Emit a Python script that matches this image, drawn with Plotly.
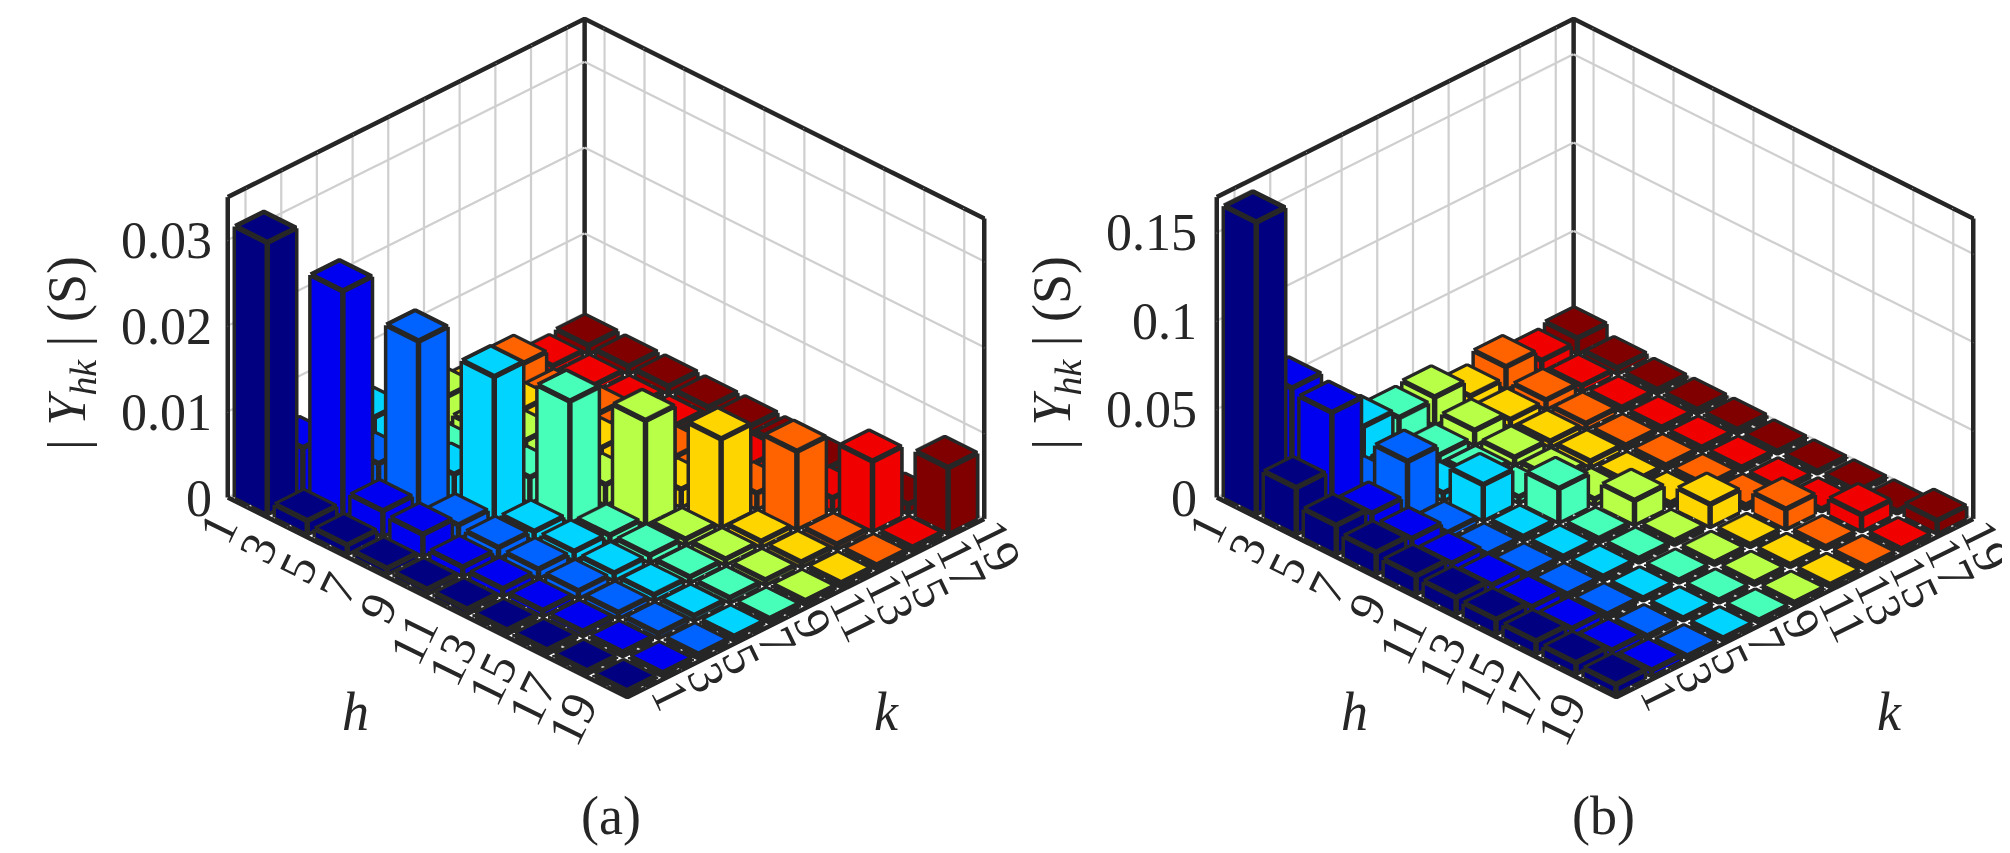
import numpy as np
import plotly.graph_objects as go

# harmonic orders
h_vals = [1, 3, 5, 7, 9, 11, 13, 15, 17, 19]
k_vals = [1, 3, 5, 7, 9, 11, 13, 15, 17, 19]

# |Y_hk| (S) for panel (a): one row per h, one column per k
Y_a = [
    [0.0316, 0.0056, 0.0030, 0.0050, 0.0025, 0.0032, 0.0020, 0.0026, 0.0006, 0.0009],
    [0.0015, 0.0262, 0.0040, 0.0020, 0.0010, 0.0015, 0.0019, 0.0010, 0.0006, 0.0008],
    [0.0010, 0.0029, 0.0206, 0.0030, 0.0012, 0.0028, 0.0010, 0.0017, 0.0005, 0.0008],
    [0.0006, 0.0025, 0.0015, 0.0167, 0.0029, 0.0010, 0.0022, 0.0008, 0.0005, 0.0007],
    [0.0005, 0.0010, 0.0012, 0.0010, 0.0141, 0.0023, 0.0010, 0.0015, 0.0005, 0.0007],
    [0.0005, 0.0008, 0.0010, 0.0010, 0.0008, 0.0121, 0.0020, 0.0010, 0.0008, 0.0006],
    [0.0004, 0.0006, 0.0008, 0.0008, 0.0008, 0.0006, 0.0102, 0.0018, 0.0008, 0.0006],
    [0.0004, 0.0005, 0.0006, 0.0006, 0.0006, 0.0006, 0.0006, 0.0090, 0.0015, 0.0005],
    [0.0003, 0.0004, 0.0005, 0.0005, 0.0005, 0.0005, 0.0005, 0.0005, 0.0081, 0.0010],
    [0.0003, 0.0003, 0.0004, 0.0004, 0.0004, 0.0004, 0.0004, 0.0004, 0.0004, 0.0076],
]

# |Y_hk| (S) for panel (b)
Y_b = [
    [0.1650, 0.0610, 0.0300, 0.0190, 0.0140, 0.0155, 0.0060, 0.0125, 0.0060, 0.0085],
    [0.0260, 0.0585, 0.0060, 0.0040, 0.0040, 0.0080, 0.0040, 0.0050, 0.0030, 0.0030],
    [0.0160, 0.0127, 0.0320, 0.0040, 0.0030, 0.0040, 0.0030, 0.0030, 0.0020, 0.0020],
    [0.0120, 0.0097, 0.0030, 0.0200, 0.0030, 0.0030, 0.0030, 0.0020, 0.0020, 0.0020],
    [0.0100, 0.0070, 0.0020, 0.0020, 0.0190, 0.0030, 0.0020, 0.0020, 0.0020, 0.0020],
    [0.0090, 0.0060, 0.0020, 0.0020, 0.0020, 0.0135, 0.0020, 0.0020, 0.0020, 0.0010],
    [0.0080, 0.0050, 0.0020, 0.0020, 0.0020, 0.0020, 0.0125, 0.0020, 0.0010, 0.0010],
    [0.0070, 0.0040, 0.0020, 0.0010, 0.0010, 0.0010, 0.0010, 0.0110, 0.0010, 0.0010],
    [0.0060, 0.0030, 0.0010, 0.0010, 0.0010, 0.0010, 0.0010, 0.0010, 0.0090, 0.0010],
    [0.0050, 0.0030, 0.0010, 0.0010, 0.0010, 0.0010, 0.0010, 0.0010, 0.0010, 0.0070],
]

z_ticks_a = [0, 0.01, 0.02, 0.03]
z_labels_a = ["0", "0.01", "0.02", "0.03"]
z_max_a = 0.035
z_ticks_b = [0, 0.05, 0.1, 0.15]
z_labels_b = ["0", "0.05", "0.1", "0.15"]
z_max_b = 0.17

FONT = "Liberation Serif"
INK = "#262626"
HALF = 0.8  # bar half width (bar3 width 0.8 of the 2-unit spacing)
ZOOM = 1.48


def jet(t):
    r = np.clip(1.5 - abs(4 * t - 3), 0, 1)
    g = np.clip(1.5 - abs(4 * t - 2), 0, 1)
    b = np.clip(1.5 - abs(4 * t - 1), 0, 1)
    return "rgb(%d,%d,%d)" % (round(r * 255), round(g * 255), round(b * 255))


def bar_traces(Y, scene):
    traces = []
    ex, ey, ez = [], [], []
    n = len(k_vals)
    for j, k in enumerate(k_vals):
        xs, ys, zs, ii, jj, kk = [], [], [], [], [], []
        for i, h in enumerate(h_vals):
            top = Y[i][j]
            e = 0.02
            x0, x1 = h - HALF + e, h + HALF - e
            y0, y1 = k - HALF + e, k + HALF - e
            z1 = top * 0.995
            base = len(xs)
            for (a, b, c) in [(x0, y0, 0), (x1, y0, 0), (x1, y1, 0), (x0, y1, 0),
                              (x0, y0, z1), (x1, y0, z1), (x1, y1, z1), (x0, y1, z1)]:
                xs.append(a); ys.append(b); zs.append(c)
            for f in [(0, 1, 2), (0, 2, 3), (4, 5, 6), (4, 6, 7),
                      (0, 1, 5), (0, 5, 4), (1, 2, 6), (1, 6, 5),
                      (2, 3, 7), (2, 7, 6), (3, 0, 4), (3, 4, 7)]:
                ii.append(base + f[0]); jj.append(base + f[1]); kk.append(base + f[2])
            # edges
            X0, X1, Y0, Y1 = h - HALF, h + HALF, k - HALF, k + HALF
            c = [(X0, Y0), (X1, Y0), (X1, Y1), (X0, Y1), (X0, Y0)]
            for zz in (0, top):
                for (a, b) in c:
                    ex.append(a); ey.append(b); ez.append(zz)
                ex.append(None); ey.append(None); ez.append(None)
            for (a, b) in c[:4]:
                ex += [a, a, None]; ey += [b, b, None]; ez += [0, top, None]
        traces.append(go.Mesh3d(
            x=xs, y=ys, z=zs, i=ii, j=jj, k=kk, color=jet(j / (n - 1)),
            flatshading=True, opacity=1,
            lighting=dict(ambient=1, diffuse=0, specular=0, roughness=1, fresnel=0),
            hoverinfo="skip", showscale=False, scene=scene))
    traces.append(go.Scatter3d(
        x=ex, y=ey, z=ez, mode="lines", line=dict(color=INK, width=11),
        hoverinfo="skip", showlegend=False, scene=scene))
    return traces


def frame_trace(zmax, scene):
    # MATLAB "back" box style: back edges plus the two front floor edges
    xs = [0, 20, 20, None, 0, 0, 20, 20, None, 0, 0, None, 0, 0, None, 20, 20]
    ys = [0, 0, 20, None, 0, 20, 20, 20, None, 0, 0, None, 20, 20, None, 20, 20]
    zs = [0, 0, 0, None, zmax, zmax, zmax, zmax, None, 0, zmax, None, 0, zmax, None, 0, zmax]
    return go.Scatter3d(x=xs, y=ys, z=zs, mode="lines", line=dict(color=INK, width=9),
                        hoverinfo="skip", showlegend=False, scene=scene)


def scene_layout(xdom, zmax, zticks, zlabels, zshift):
    ax = dict(showticklabels=False, title=dict(text=""), showgrid=True,
              gridcolor="rgba(0,0,0,0.19)", gridwidth=5, showbackground=False,
              zeroline=False, showline=False, ticks="", showspikes=False)
    ann = []
    for h in h_vals:
        ann.append(dict(x=h, y=0, z=0, text=str(h), textangle=-64, showarrow=False,
                        xanchor="right", yanchor="top", xshift=4, yshift=6,
                        font=dict(family=FONT, size=50, color=INK)))
    for k in k_vals:
        ann.append(dict(x=20, y=k, z=0, text=str(k), textangle=64, showarrow=False,
                        xanchor="left", yanchor="top", xshift=-8, yshift=20,
                        font=dict(family=FONT, size=50, color=INK)))
    for zt, zl in zip(zticks, zlabels):
        ann.append(dict(x=0, y=0, z=zt, text=zl, showarrow=False,
                        xanchor="right", yanchor="middle", xshift=zshift,
                        font=dict(family=FONT, size=52, color=INK)))
    return dict(
        domain=dict(x=xdom, y=[0.189, 0.989]),
        xaxis=dict(range=[0, 20], tickvals=h_vals, **ax),
        yaxis=dict(range=[0, 20], tickvals=k_vals, **ax),
        zaxis=dict(range=[0, zmax], tickvals=zticks, **ax),
        aspectmode="manual",
        aspectratio=dict(x=1.12 * ZOOM, y=1.0 * ZOOM, z=0.687 * ZOOM),
        camera=dict(projection=dict(type="orthographic"),
                    eye=dict(x=1.3, y=-1.3, z=1.06),
                    up=dict(x=0, y=0, z=1), center=dict(x=0, y=0, z=0)),
        annotations=ann,
        dragmode=False,
    )


fig = go.Figure()
for t in bar_traces(Y_a, "scene"):
    fig.add_trace(t)
fig.add_trace(frame_trace(z_max_a, "scene"))
for t in bar_traces(Y_b, "scene2"):
    fig.add_trace(t)
fig.add_trace(frame_trace(z_max_b, "scene2"))

title_txt = "| <i>Y</i><sub><i>hk</i></sub> | (S)"
paper_ann = [
    dict(x=0.300, y=0.053, text="(a)"),
    dict(x=0.794, y=0.053, text="(b)"),
    dict(x=0.173, y=0.175, text="<i>h</i>"),
    dict(x=0.437, y=0.175, text="<i>k</i>"),
    dict(x=0.670, y=0.175, text="<i>h</i>"),
    dict(x=0.936, y=0.175, text="<i>k</i>"),
    dict(x=0.031, y=0.596, text=title_txt, textangle=-90),
    dict(x=0.521, y=0.596, text=title_txt, textangle=-90),
]
for a in paper_ann:
    a.update(xref="paper", yref="paper", showarrow=False, xanchor="center", yanchor="middle",
             font=dict(family=FONT, size=54, color=INK))

fig.update_layout(
    width=2010, height=853,
    margin=dict(l=0, r=0, t=0, b=0),
    paper_bgcolor="white",
    showlegend=False,
    scene=scene_layout([0.0975, 0.4975], z_max_a, z_ticks_a, z_labels_a, -14),
    scene2=scene_layout([0.5895, 0.9895], z_max_b, z_ticks_b, z_labels_b, -18),
    annotations=paper_ann,
)

fig.write_html("out.html")
